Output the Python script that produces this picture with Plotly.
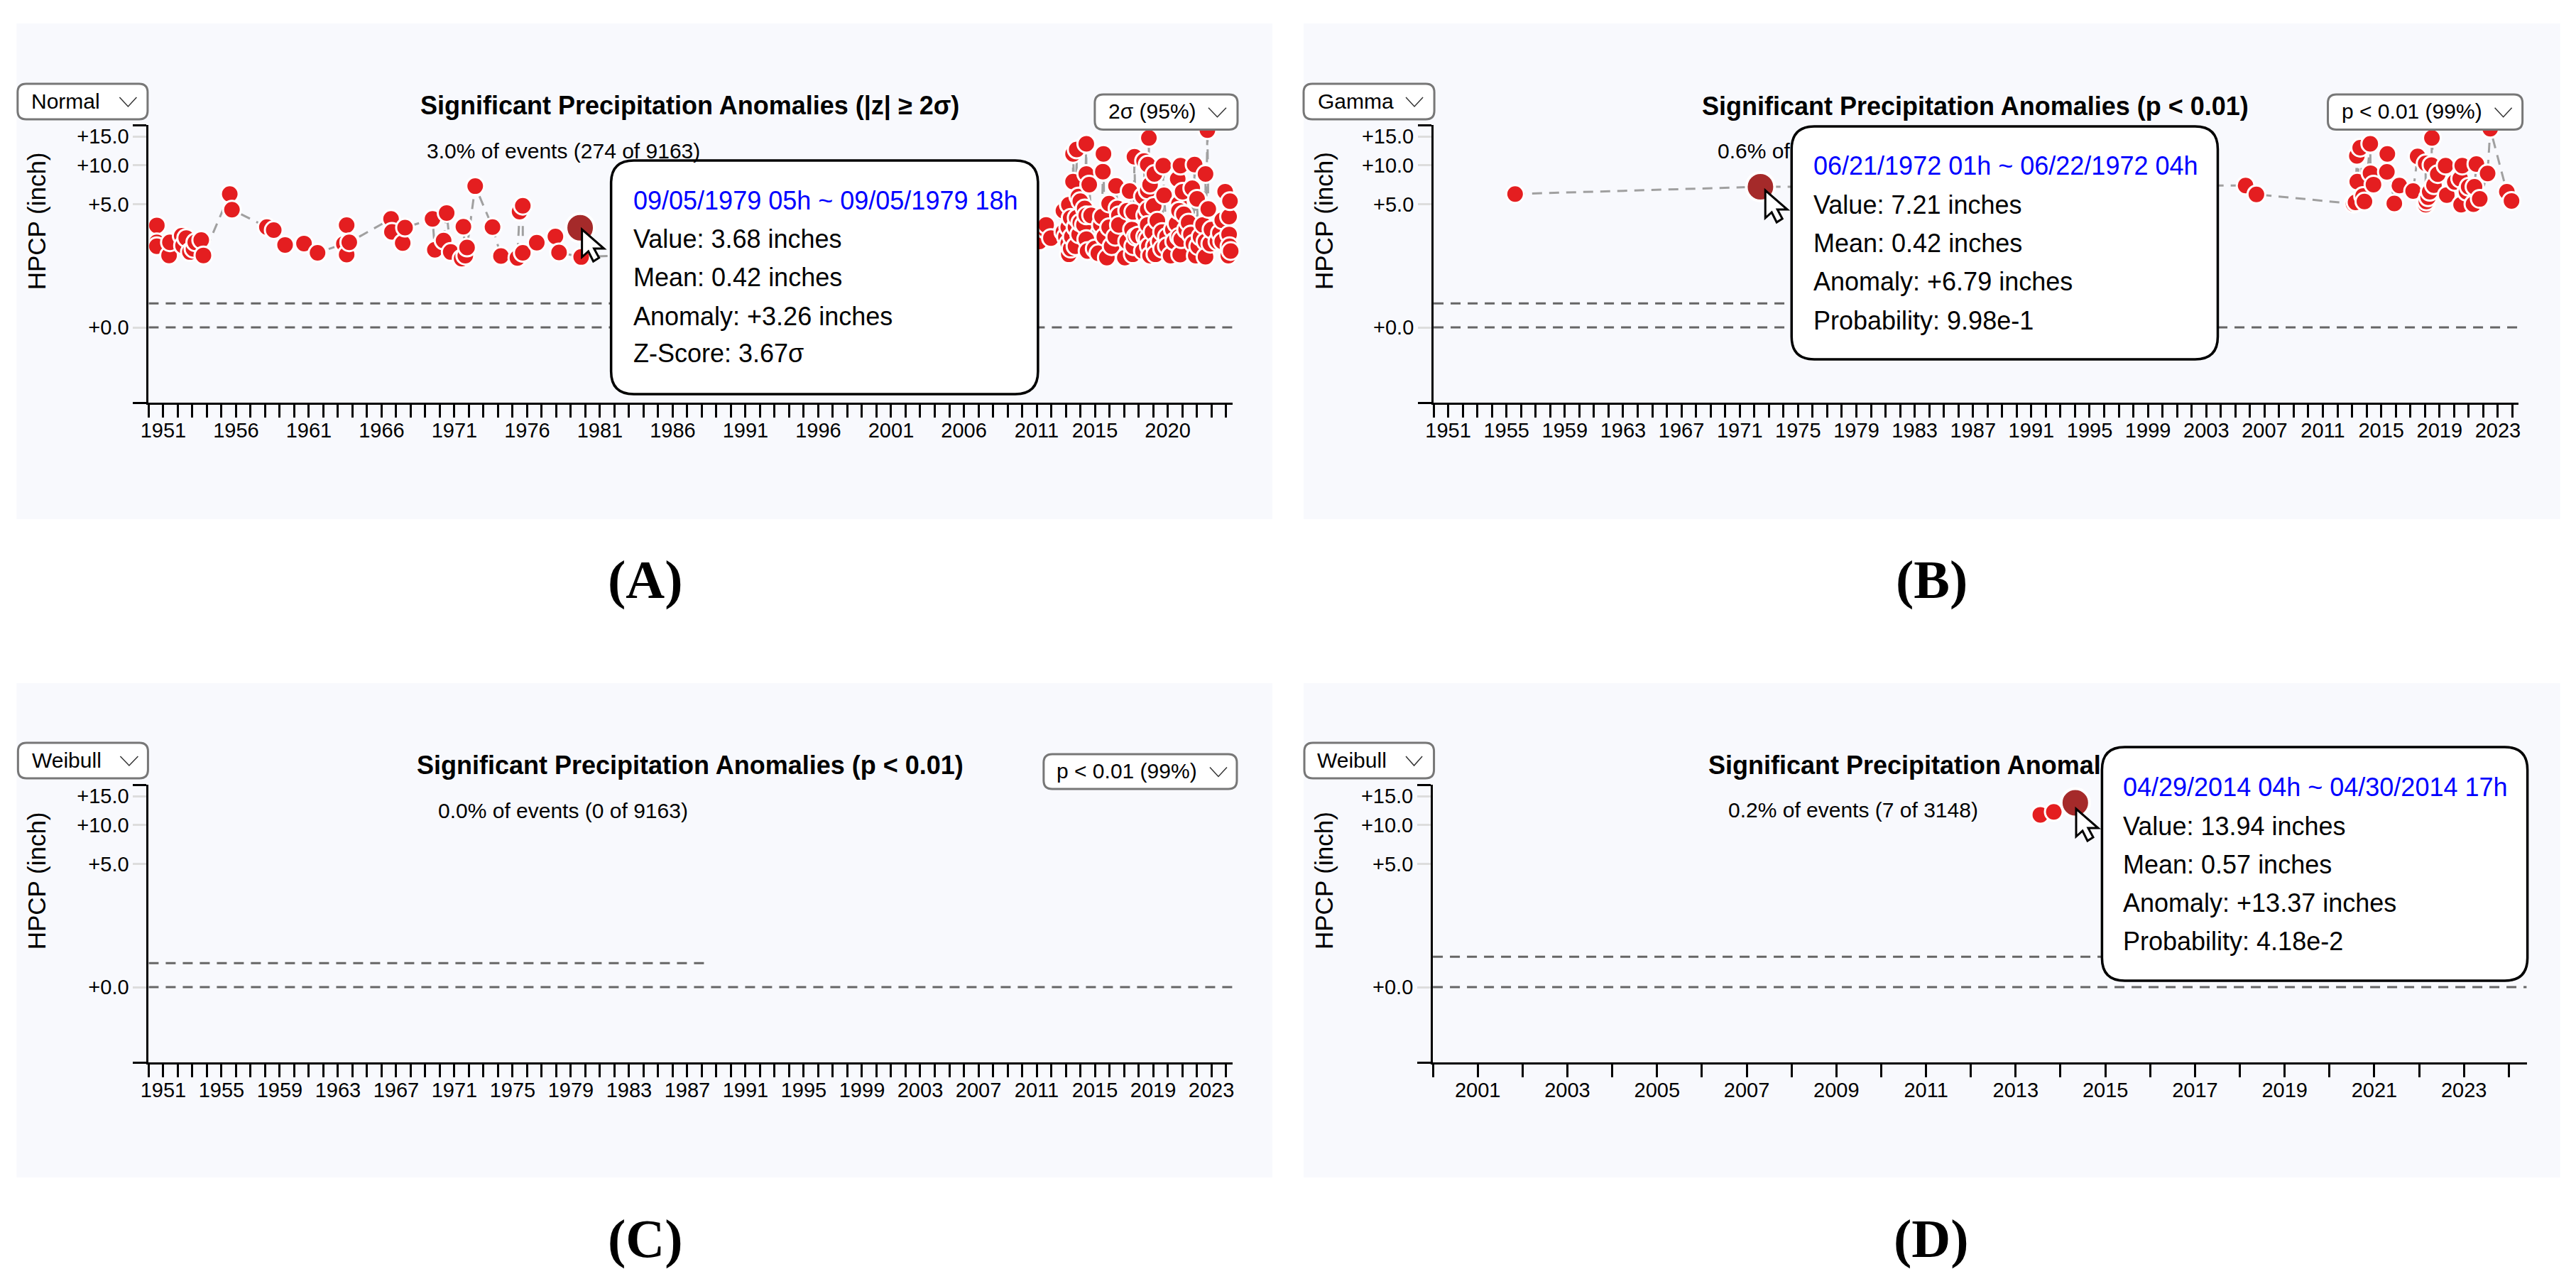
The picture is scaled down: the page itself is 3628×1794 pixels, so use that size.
import plotly.graph_objects as go

W = 3628
H = 1794
PAGE_MARGIN = 8  # the page body keeps its default margin
# measured against the photographed page: x comes out slightly squeezed and shifted
X_SQUEEZE = 0.9955
X_SHIFT = 12.7

# years on the time axes
years_full = list(range(1950, 2025))
years_d = list(range(2000, 2025))
labels_a = [1951, 1956, 1961, 1966, 1971, 1976, 1981, 1986, 1991, 1996, 2001, 2006, 2011, 2015, 2020]
labels_b = list(range(1951, 2024, 4))
labels_d = list(range(2001, 2024, 2))

y_ticks = [0, 5, 10, 15]
y_tick_labels = ["+0.0", "+5.0", "+10.0", "+15.0"]
y_bottom = -1.46
y_top = 17.35

# panel A (decimal year, inches)
a_year = [1950.56, 1950.56, 1950.56, 1951.4, 1951.46, 1952.27, 1952.36, 1952.58, 1952.83, 1953.08, 1953.2, 1953.61,
          1953.76, 1955.57, 1955.72, 1958.12, 1958.59, 1959.37, 1960.67, 1961.6, 1963.41, 1963.6, 1963.6, 1963.78,
          1966.65, 1966.71, 1967.45, 1967.61, 1969.5, 1969.66, 1970.26, 1970.47, 1970.75, 1971.5, 1971.62, 1971.75,
          1971.87, 1972.43, 1973.62, 1974.2, 1975.33, 1975.48, 1975.7, 1975.7, 1976.66, 1977.94, 1978.19, 1979.71,
          2011.19, 2011.6, 2011.65, 2011.98,
          2012.84, 2012.84, 2013.01, 2013.17, 2013.17, 2013.21, 2013.21, 2013.34, 2013.34, 2013.42, 2013.5, 2013.5,
          2013.67, 2013.67, 2013.75, 2013.75, 2013.87, 2013.92, 2014.0, 2014.0, 2014.25, 2014.3, 2014.41, 2014.41,
          2014.41, 2014.41, 2014.5, 2014.61, 2014.74, 2014.99,
          2015.24, 2015.41, 2015.49, 2015.55, 2015.59, 2015.65, 2015.82, 2015.98, 2015.98, 2016.15, 2016.4, 2016.45,
          2016.56, 2016.65, 2016.65, 2017.06, 2017.22, 2017.22, 2017.39, 2017.55, 2017.6, 2017.64, 2017.64, 2017.72,
          2017.8, 2017.97,
          2018.3, 2018.3, 2018.38, 2018.46, 2018.46, 2018.63, 2018.63, 2018.63, 2018.63, 2018.63, 2018.71, 2018.71,
          2018.79, 2018.79, 2018.96, 2019.04, 2019.09, 2019.12, 2019.16, 2019.29, 2019.45, 2019.62, 2019.62, 2019.7,
          2019.75, 2019.95, 2019.95, 2020.2, 2020.36, 2020.45,
          2020.61, 2020.69, 2020.78, 2020.78, 2020.78, 2020.86, 2020.88, 2020.94, 2021.03, 2021.11, 2021.27, 2021.44,
          2021.6, 2021.69, 2021.77, 2021.85, 2021.93, 2022.02, 2022.1, 2022.26, 2022.43, 2022.6, 2022.6, 2022.6,
          2022.73, 2022.79, 2022.93, 2023.01,
          2023.42, 2023.59, 2023.75, 2023.75, 2023.95, 2024.17, 2024.22, 2024.22, 2024.25, 2024.28, 2024.33, 2024.5]
a_value = [3.13, 1.99, 1.77, 1.31, 1.99, 2.39, 1.8, 2.25, 1.47, 1.63, 1.99, 2.12,
           1.31, 6.12, 4.48, 3.0, 2.78, 1.84, 1.92, 1.43, 1.9, 1.35, 3.15, 1.99,
           3.65, 2.66, 1.95, 2.96, 3.65, 1.58, 2.09, 4.17, 1.47, 1.17, 3.03, 1.3,
           1.7, 7.06, 3.0, 1.28, 1.2, 4.29, 4.86, 1.43, 1.97, 2.35, 1.45, 1.24,
           2.04, 2.82, 3.17, 2.25,
           4.38, 2.65, 2.33, 2.99, 1.91, 4.96, 1.36, 3.74, 1.64, 2.33, 7.64, 11.81,
           2.99, 1.77, 12.56, 3.74, 5.84, 2.48, 5.33, 3.35, 3.17, 4.6, 13.6, 8.67,
           3.95, 2.18, 1.52, 7.25, 3.95, 1.64,
           1.41, 3.17, 3.85, 9.02, 11.81, 2.33, 1.21, 5.08, 2.99, 1.77, 2.33, 7.1,
           4.6, 3.95, 3.17, 1.21, 4.38, 2.04, 6.47, 2.82, 1.36, 4.27, 1.77, 11.33,
           2.33, 2.4,
           5.84, 1.52, 10.63, 3.95, 2.33, 10.08, 6.53, 4.49, 3.17, 2.18, 14.7, 1.77,
           7.25, 1.3, 2.65, 4.84, 8.67, 1.77, 1.36, 3.5, 2.04, 2.65, 1.64, 9.9,
           5.97, 2.33, 1.77, 1.3, 2.82, 2.04,
           3.26, 8.0, 5.08, 4.38, 2.33, 1.35, 9.9, 2.18, 6.39, 4.05, 2.82, 3.35,
           2.48, 6.81, 1.91, 10.08, 1.3, 5.58, 1.77, 2.33, 3.17, 8.67, 2.04, 1.25,
           16.26, 4.55, 1.91, 2.82,
           2.04, 2.57, 3.54, 2.04, 6.39, 1.3, 3.85, 2.48, 1.77, 5.33, 1.52, 1.47]

# panel B
b_year = [1955.59, 1972.42, 2005.7, 2006.44, 2013.1, 2013.24, 2013.33, 2013.36, 2013.56, 2013.76, 2013.85, 2014.25,
          2014.27, 2014.47, 2015.39, 2015.42, 2015.9, 2016.25, 2017.19, 2017.5, 2018.05, 2018.05, 2018.1, 2018.22,
          2018.33, 2018.45, 2018.48, 2018.62, 2018.88, 2019.42, 2019.5, 2020.05, 2020.42, 2020.48, 2020.56, 2020.85,
          2021.0, 2021.33, 2021.4, 2021.53, 2021.76, 2022.3, 2022.48, 2023.62, 2023.94]
b_value = [6.12, 6.98, 7.14, 6.08, 5.06, 5.2, 11.47, 7.64, 12.89, 5.9, 5.29, 13.6,
           8.79, 7.26, 8.98, 11.8, 5.09, 7.14, 6.46, 11.37, 10.26, 4.96, 5.29, 5.75,
           6.38, 10.0, 14.71, 7.18, 8.66, 9.91, 6.0, 7.6, 8.03, 4.96, 9.91, 6.38,
           6.98, 5.02, 6.98, 10.16, 5.57, 8.75, 16.55, 6.38, 5.36]

# panel C has no events
c_year = []
c_value = []

# panel D
d_year = [2013.55, 2013.85, 2014.33]
d_value = [11.6, 12.1, 13.72]

# hovered events
hover_year = [1979.64, 1972.42, None, 2014.33]
hover_value = [2.95, 6.98, None, 13.72]

# upper dashed line and where it stops
mean_value = [0.084, 0.084, 0.084, 0.151]
mean_end = [1988.2, 1988.2, 1988.2, 2015.0]

panel_names = ["A", "B", "C", "D"]
titles = ["Significant Precipitation Anomalies (|z| ≥ 2σ)", "Significant Precipitation Anomalies (p < 0.01)",
          "Significant Precipitation Anomalies (p < 0.01)", "Significant Precipitation Anomal"]
subtitles = ["3.0% of events (274 of 9163)", "0.6% of", "0.0% of events (0 of 9163)", "0.2% of events (7 of 3148)"]
dist_names = ["Normal", "Gamma", "Weibull", "Weibull"]
level_names = ["2σ (95%)", "p < 0.01 (99%)", "p < 0.01 (99%)", None]

tip_a = ["09/05/1979 05h ~ 09/05/1979 18h", "Value: 3.68 inches", "Mean: 0.42 inches", "Anomaly: +3.26 inches", "Z-Score: 3.67σ"]
tip_b = ["06/21/1972 01h ~ 06/22/1972 04h", "Value: 7.21 inches", "Mean: 0.42 inches", "Anomaly: +6.79 inches", "Probability: 9.98e-1"]
tip_d = ["04/29/2014 04h ~ 04/30/2014 17h", "Value: 13.94 inches", "Mean: 0.57 inches", "Anomaly: +13.37 inches", "Probability: 4.18e-2"]

FONT = "Liberation Sans"
RED = "#E41E20"
DARK = "#A52A2A"


def pscale(v):
    # the charts use a power scale on y
    return abs(v) ** 0.4 if v >= 0 else -(abs(v) ** 0.4)


def fx(x):
    return ((x - X_SHIFT) / X_SQUEEZE - PAGE_MARGIN) / W


def fy(y):
    return 1 - (y - PAGE_MARGIN) / H


def rounded(x0, y0, x1, y1, r):
    return (f"M {fx(x0 + r)} {fy(y0)} L {fx(x1 - r)} {fy(y0)} Q {fx(x1)} {fy(y0)} {fx(x1)} {fy(y0 + r)} "
            f"L {fx(x1)} {fy(y1 - r)} Q {fx(x1)} {fy(y1)} {fx(x1 - r)} {fy(y1)} "
            f"L {fx(x0 + r)} {fy(y1)} Q {fx(x0)} {fy(y1)} {fx(x0)} {fy(y1 - r)} "
            f"L {fx(x0)} {fy(y0 + r)} Q {fx(x0)} {fy(y0)} {fx(x0 + r)} {fy(y0)} Z")


def text(x, y, s, size, color="black", bold=False, anchor="left", angle=0, family=FONT):
    if bold:
        s = "<b>" + s + "</b>"
    return dict(xref="paper", yref="paper", x=fx(x), y=fy(y), text=s, showarrow=False, xanchor=anchor,
                yanchor="middle", textangle=angle, font=dict(family=family, size=size, color=color))


def dropdown(x0, y0, x1, y1, chev0, chev1, s, text_x):
    ym = (y0 + y1) / 2
    shapes.append(dict(type="path", path=rounded(x0, y0, x1, y1, 12), xref="paper", yref="paper", layer="above",
                       fillcolor="white", line=dict(color="#777777", width=3)))
    path = f"M {fx(chev0)} {fy(ym - 6)} L {fx((chev0 + chev1) / 2)} {fy(ym + 7)} L {fx(chev1)} {fy(ym - 6)}"
    shapes.append(dict(type="path", path=path, xref="paper", yref="paper", layer="above",
                       line=dict(color="#333333", width=1.5)))
    annotations.append(text(text_x, ym - 1, s, 30))


def tooltip(x0, y0, x1, y1, lines, text_x, line_y):
    shapes.append(dict(type="path", path=rounded(x0, y0, x1, y1, 32), xref="paper", yref="paper", layer="above",
                       fillcolor="white", line=dict(color="black", width=3.5)))
    for i, s in enumerate(lines):
        annotations.append(text(text_x, line_y[i], s, 36, color="#0000FF" if i == 0 else "black"))


def cursor(x, y):
    pts = [(0, 0), (0, 39), (9, 31), (16, 45), (24, 40), (17, 27), (31, 27)]
    path = "M " + " L ".join(f"{fx(x + a)} {fy(y + b)}" for a, b in pts) + " Z"
    shapes.append(dict(type="path", path=path, xref="paper", yref="paper", layer="above",
                       fillcolor="white", line=dict(color="black", width=3)))


shapes = []
annotations = []
fig = go.Figure()

# pixel boxes of the four panels
bg_x = [(24, 1792), (1836, 3605), (24, 1792), (1836, 3605)]
bg_y = [(33, 731), (33, 731), (962, 1658), (962, 1658)]
axis_x = [(210, 1736), (2019, 3546), (210, 1736), (2018, 3558)]
axis_y = [(176, 567), (176, 567), (1105, 1496), (1105, 1496)]
x_start = [1950, 1950, 1950, 2000]
x_end = [2024.46, 2024.4, 2024.46, 2024.4]
tick_years = [years_full, years_full, years_full, years_d]
tick_labeled = [labels_a, labels_b, labels_b, labels_d]
series_x = [a_year, b_year, c_year, d_year]
series_y = [a_value, b_value, c_value, d_value]

for i in range(4):
    n = "" if i == 0 else str(i + 1)
    xa = "x" + n
    ya = "y" + n
    shapes.append(dict(type="rect", xref="paper", yref="paper", layer="below", x0=fx(bg_x[i][0]), x1=fx(bg_x[i][1]),
                       y0=fy(bg_y[i][0]), y1=fy(bg_y[i][1]), fillcolor="#F8F9FD", line=dict(width=0)))

    # dashed reference lines
    fig.add_trace(go.Scatter(x=[x_start[i], x_end[i]], y=[0, 0], mode="lines", xaxis=xa, yaxis=ya, showlegend=False,
                             line=dict(color="#666666", width=3, dash="14px,10px")))
    fig.add_trace(go.Scatter(x=[x_start[i], mean_end[i]], y=[pscale(mean_value[i])] * 2, mode="lines", xaxis=xa,
                             yaxis=ya, showlegend=False, line=dict(color="#666666", width=3, dash="14px,10px")))

    fig.add_trace(go.Scatter(x=series_x[i], y=[pscale(v) for v in series_y[i]], mode="lines+markers", xaxis=xa,
                             yaxis=ya, showlegend=False, cliponaxis=False,
                             line=dict(color="#A0A0A0", width=3, dash="14px,10px"),
                             marker=dict(color=RED, size=25, line=dict(color="white", width=3))))
    if hover_year[i] is not None:
        fig.add_trace(go.Scatter(x=[hover_year[i]], y=[pscale(hover_value[i])], mode="markers", xaxis=xa, yaxis=ya,
                                 showlegend=False, cliponaxis=False,
                                 marker=dict(color=DARK, size=40, line=dict(color="white", width=4))))

    xt = [str(y) if y in tick_labeled[i] else "" for y in tick_years[i]]
    fig.update_layout({
        "xaxis" + n: dict(domain=[fx(axis_x[i][0]), fx(axis_x[i][1])], range=[x_start[i], x_end[i]], anchor=ya,
                          tickmode="array", tickvals=tick_years[i], ticktext=xt, ticks="outside", ticklen=18,
                          tickwidth=2.5, tickcolor="black", showline=True, linecolor="black", linewidth=3,
                          showgrid=False, zeroline=False, tickangle=0, ticklabelstandoff=-7,
                          tickfont=dict(family=FONT, size=29, color="black")),
        "yaxis" + n: dict(domain=[fy(axis_y[i][1]), fy(axis_y[i][0])], range=[pscale(y_bottom), pscale(y_top)],
                          anchor=xa, tickmode="array", tickvals=[pscale(v) for v in y_ticks], ticktext=y_tick_labels,
                          ticks="outside", ticklen=19, tickwidth=3, tickcolor="#DDDDDD", showline=True,
                          linecolor="black", linewidth=3, showgrid=False, zeroline=False,
                          tickfont=dict(family=FONT, size=29, color="black"),
                          minor=dict(tickmode="array", tickvals=[pscale(y_bottom), pscale(y_top)], ticks="outside",
                                     ticklen=19, tickwidth=3, tickcolor="black", showgrid=False)),
    })

# titles, subtitles and panel letters
title_pos = [(972, 149.5, "center"), (2782, 149.5, "center"), (972, 1077.5, "center"), (2404, 1077.5, "left")]
sub_pos = [(599.5, 212), (2417, 212), (615, 1141), (2431.6, 1140)]
ylabel_pos = [(52, 311), (1864, 311), (52, 1240), (1864, 1240)]
letter_pos = [(909, 816), (2720, 816), (909, 1744), (2720, 1744)]
for i in range(4):
    annotations.append(text(title_pos[i][0], title_pos[i][1], titles[i], 36, bold=True, anchor=title_pos[i][2]))
    annotations.append(text(sub_pos[i][0], sub_pos[i][1], subtitles[i], 30))
    annotations.append(text(ylabel_pos[i][0], ylabel_pos[i][1], "HPCP (inch)", 35, anchor="center", angle=-90))
    annotations.append(text(letter_pos[i][0], letter_pos[i][1], "(" + panel_names[i] + ")", 76, bold=True,
                            anchor="center", family="Liberation Serif"))

dropdown(25.5, 118, 208.5, 168, 169, 193, dist_names[0], 43)
dropdown(1542, 133, 1743, 182.5, 1702, 1727, level_names[0], 1558.6)
dropdown(1836, 118, 2020, 168, 1980, 2004, dist_names[1], 1854)
dropdown(3278, 133, 3552, 182.5, 3513, 3537, level_names[1], 3295)
dropdown(26, 1046, 209, 1096, 170, 195, dist_names[2], 44)
dropdown(1470, 1062, 1742, 1111, 1704, 1728, level_names[2], 1486)
dropdown(1837, 1046, 2019.5, 1096, 1980, 2003, dist_names[3], 1853)

tooltip(861, 226, 1462, 555, tip_a, 890, [282, 336, 390, 445, 498])
tooltip(2523, 178, 3123, 506, tip_b, 2552, [233.5, 288, 342, 396, 451])
tooltip(2960, 1052, 3559, 1381, tip_d, 2988, [1108, 1163, 1217, 1271, 1325])

cursor(820, 323)
cursor(2486, 268)
cursor(2923.6, 1139)

fig.update_layout(width=W, height=H, autosize=False, margin=dict(l=0, r=0, t=0, b=0), paper_bgcolor="white",
                  plot_bgcolor="rgba(0,0,0,0)", shapes=shapes, annotations=annotations, showlegend=False)

fig.write_html("out.html")
